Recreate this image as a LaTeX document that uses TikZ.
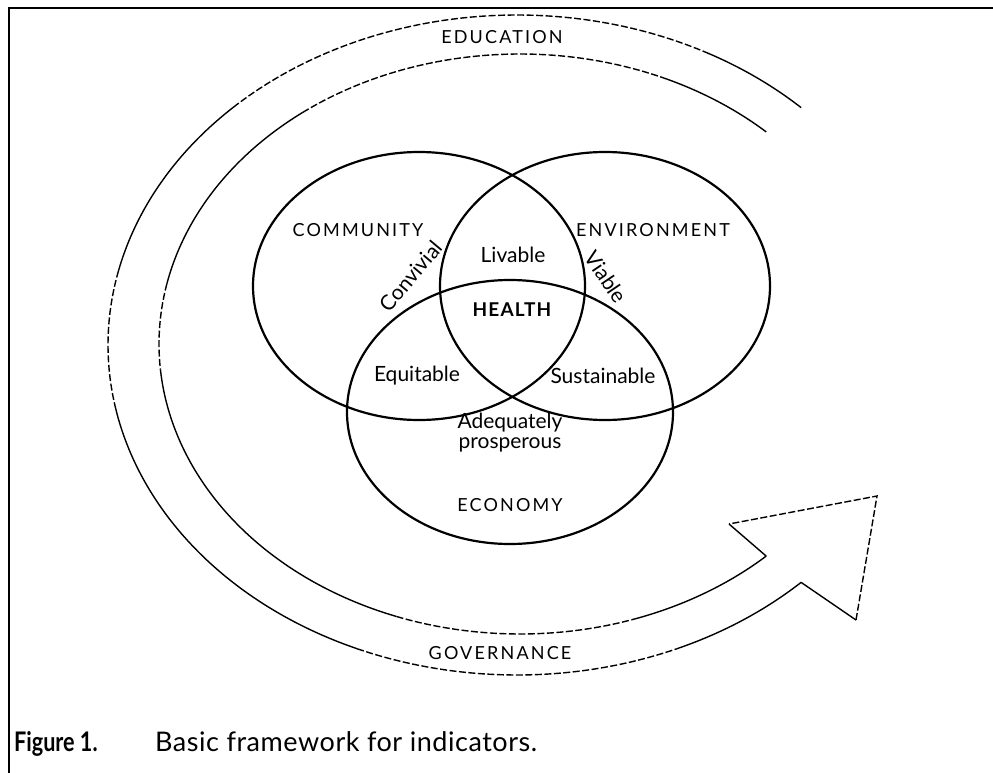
\documentclass[tikz,border=0pt]{standalone}
\usepackage{fontspec}
\setmainfont{Lato}
\begin{document}
\begin{tikzpicture}[x=1pt,y=-1pt,
  venn/.style={line width=2.2pt},
  band/.style={line width=1.4pt},
  bandgap/.style={line width=1.4pt, dash pattern=on 7pt off 2.5pt},
  lab/.style={inner sep=0pt, font=\fontsize{21}{24}\selectfont},
  caplab/.style={inner sep=0pt, font=\fontsize{18}{22}\selectfont\addfontfeature{LetterSpace=12}},
  captext/.style={inner sep=0pt, anchor=base west, font=\fontsize{27}{30}\selectfont\addfontfeature{LetterSpace=2}}]
\useasboundingbox (0,0) rectangle (993,773);
% frame
\draw[line width=2pt] (9,773) -- (9,8) -- (993,8);
% outer band curve
\newcommand\outerarc[3]{\draw[#1] plot[domain=#2:#3,samples=40,smooth] ({517+409*cos(\x)},{345-330*sin(\x)});}
\newcommand\innerarc[3]{\draw[#1] plot[domain=#2:#3,samples=40,smooth] ({520+361*cos(\x)},{344-290*sin(\x)});}
\outerarc{band}{46}{62}
\outerarc{bandgap}{62}{133}
\outerarc{band}{133}{167}
\outerarc{bandgap}{167}{190}
\outerarc{band}{190}{247}
\outerarc{bandgap}{247}{293}
\outerarc{band}{293}{314}
\innerarc{band}{47}{66}
\innerarc{bandgap}{66}{127}
\innerarc{band}{127}{168}
\innerarc{bandgap}{168}{185}
\innerarc{band}{185}{250}
\innerarc{bandgap}{250}{288}
\innerarc{band}{288}{313}
% arrow head
\coordinate (oe) at ({517+409*cos(314)},{345-330*sin(314)});
\coordinate (ie) at ({520+361*cos(313)},{344-290*sin(313)});
\coordinate (b1) at (856,620);
\coordinate (tip) at (877,496);
\coordinate (b2) at (729,524);
\draw[band] (oe) -- (b1);
\draw[bandgap, line join=miter] (b1) -- (tip) -- (b2);
\draw[band] (b2) -- (ie);
% Venn
\draw[venn] (419,286) ellipse [x radius=166, y radius=134];
\draw[venn] (605,286) ellipse [x radius=165, y radius=134];
\draw[venn] (510,412) ellipse [x radius=163, y radius=132];
% labels
\node[caplab] (edu) at (502,37) {EDUCATION};
\node[caplab] (com) at (358,230) {COMMUNITY};
\node[caplab] (env) at (653,230) {ENVIRONMENT};
\node[lab] (liv) at (513,255) {Livable};
\node[lab, font=\fontsize{19}{22}\selectfont\bfseries\addfontfeature{LetterSpace=6}] (hea) at (512,310) {HEALTH};
\node[lab] (equ) at (417,376) {Equitable};
\node[lab] (sus) at (603,376) {Sustainable};
\node[lab, rotate=50] (con) at (411,276) {Convivial};
\node[lab, rotate=-56] (via) at (606,277) {Viable};
\node[lab, align=center, font=\fontsize{21}{20}\selectfont] (ade) at (510,433) {Adequately\\prosperous};
\node[caplab] (eco) at (510,505) {ECONOMY};
\node[caplab] (gov) at (500,653) {GOVERNANCE};
% caption
\node[captext, font=\fontsize{27}{30}\selectfont\bfseries\addfontfeature{FakeStretch=0.8}] (fig) at (14,751) {Figure 1.};
\node[captext] (capt) at (155,751) {Basic framework for indicators.};
\end{tikzpicture}
\end{document}
